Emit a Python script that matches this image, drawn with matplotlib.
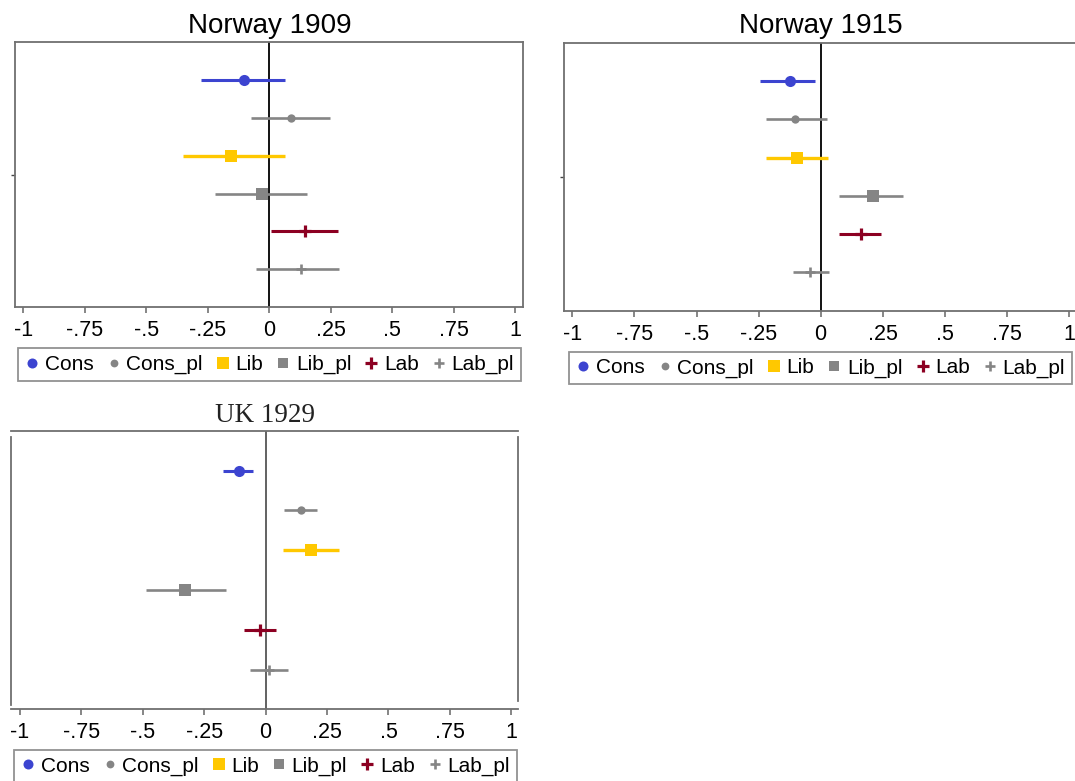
import matplotlib
matplotlib.use("Agg")
import matplotlib.pyplot as plt
from matplotlib.lines import Line2D
import numpy as np

plt.rcParams["font.family"] = ["Liberation Sans", "DejaVu Sans"]

# ---- data -------------------------------------------------------------
parties = ["Cons", "Cons_pl", "Lib", "Lib_pl", "Lab", "Lab_pl"]
rows = [1, 2, 3, 4, 5, 6]

nor1909_est = [-0.102, 0.088, -0.156, -0.028, 0.146, 0.127]
nor1909_lo = [-0.278, -0.076, -0.352, -0.220, 0.007, -0.055]
nor1909_hi = [0.064, 0.248, 0.064, 0.155, 0.278, 0.282]

nor1915_est = [-0.125, -0.102, -0.096, 0.211, 0.164, -0.042]
nor1915_lo = [-0.246, -0.221, -0.219, 0.074, 0.072, -0.111]
nor1915_hi = [-0.022, 0.026, 0.029, 0.333, 0.242, 0.033]

uk1929_est = [-0.110, 0.144, 0.183, -0.329, -0.024, 0.015]
uk1929_lo = [-0.172, 0.074, 0.070, -0.488, -0.087, -0.062]
uk1929_hi = [-0.050, 0.208, 0.298, -0.161, 0.043, 0.092]

xticks = [-1, -0.75, -0.5, -0.25, 0, 0.25, 0.5, 0.75, 1]
xticklabels = ["-1", "-.75", "-.5", "-.25", "0", ".25", ".5", ".75", "1"]

# ---- styles -----------------------------------------------------------
BLUE = "#3c44d0"
GRAY = "#858585"
GOLD = "#ffc800"
MAROON = "#8c0022"

styles = {
    "Cons":    dict(color=BLUE,   marker="o", ms=8.0, mew=0,   lw=2.2),
    "Cons_pl": dict(color=GRAY,   marker="o", ms=6.0, mew=0,   lw=1.9),
    "Lib":     dict(color=GOLD,   marker="s", ms=8.8, mew=0,   lw=2.4),
    "Lib_pl":  dict(color=GRAY,   marker="s", ms=8.2, mew=0,   lw=1.9),
    "Lab":     dict(color=MAROON, marker="+", ms=8.5, mew=2.3, lw=2.2),
    "Lab_pl":  dict(color=GRAY,   marker="+", ms=7.5, mew=1.9, lw=1.9),
}
legend_ms = {"Cons": 7.2, "Cons_pl": 5.6, "Lib": 8.0, "Lib_pl": 7.4, "Lab": 8.0, "Lab_pl": 7.5}

W, H = 1075, 781
fig = plt.figure(figsize=(W / 100, H / 100), dpi=100)


def frac(x0, y0, x1, y1):
    return [x0 / W, 1 - y1 / H, (x1 - x0) / W, (y1 - y0) / H]


def draw_panel(rect, est, lo, hi, xlim, zero_color, spine_color):
    ax = fig.add_axes(rect)
    ax.axvline(0, color=zero_color, lw=1.3, zorder=1)
    for i, p in enumerate(parties):
        st = styles[p]
        ax.errorbar(est[i], rows[i],
                    xerr=[[est[i] - lo[i]], [hi[i] - est[i]]],
                    fmt=st["marker"], color=st["color"], ms=st["ms"],
                    mew=st["mew"], mec=st["color"], elinewidth=st["lw"],
                    capsize=0, zorder=3)
    ax.set_xlim(*xlim)
    ax.set_ylim(7, 0)
    ax.set_xticks(xticks)
    ax.set_xticklabels(xticklabels)
    ax.tick_params(axis="x", direction="out", length=4.5, width=1.1,
                   color="#666666", labelsize=15.5, pad=5)
    for s in ax.spines.values():
        s.set_color(spine_color)
        s.set_linewidth(1.3)
    return ax


def add_legend(cx, top):
    handles = [Line2D([], [], ls="none", marker=styles[p]["marker"],
                      color=styles[p]["color"], mec=styles[p]["color"],
                      ms=legend_ms[p], mew=styles[p]["mew"])
               for p in parties]
    leg = fig.legend(handles, parties, loc="upper center",
                     bbox_to_anchor=(cx / W, 1 - top / H),
                     bbox_transform=fig.transFigure, ncol=6, frameon=True,
                     fancybox=False, fontsize=15, handlelength=0.7,
                     handletextpad=0.25, columnspacing=0.62, borderpad=0.32,
                     borderaxespad=0)
    leg.get_frame().set_edgecolor("#777777")
    leg.get_frame().set_linewidth(1.3)
    return leg


# Norway 1909
ax1 = draw_panel(frac(15, 42.3, 523.3, 307), nor1909_est, nor1909_lo, nor1909_hi,
                 (-1.034, 1.033), "black", "#707070")
ax1.set_yticks([3.5])
ax1.set_yticklabels([""])
ax1.tick_params(axis="y", length=3, width=1, color="#444444")
fig.text(270 / W, 1 - 33.3 / H, "Norway 1909", ha="center", va="baseline", fontsize=20)
add_legend(269.4, 348.3)

# Norway 1915
ax2 = draw_panel(frac(564, 42.7, 1077.3, 310.7), nor1915_est, nor1915_lo, nor1915_hi,
                 (-1.034, 1.034), "black", "#707070")
ax2.set_yticks([3.5])
ax2.set_yticklabels([""])
ax2.tick_params(axis="y", length=3, width=1, color="#444444")
fig.text(821 / W, 1 - 33.3 / H, "Norway 1915", ha="center", va="baseline", fontsize=20)
add_legend(820.5, 351.7)

# UK 1929
ax3 = draw_panel(frac(11, 430.7, 517.7, 709.3), uk1929_est, uk1929_lo, uk1929_hi,
                 (-1.036, 1.026), "#555555", "#707070")
ax3.set_yticks([])
ax3.spines["left"].set_bounds(0.15, 6.9)
ax3.spines["right"].set_bounds(0.15, 6.8)
fig.text(265 / W, 1 - 421.7 / H, "UK 1929", ha="center", va="baseline", fontsize=19.5,
         family=["Liberation Serif", "DejaVu Serif"], color="#222222")
add_legend(265.3, 750)

fig.savefig("out.png", dpi=100)
